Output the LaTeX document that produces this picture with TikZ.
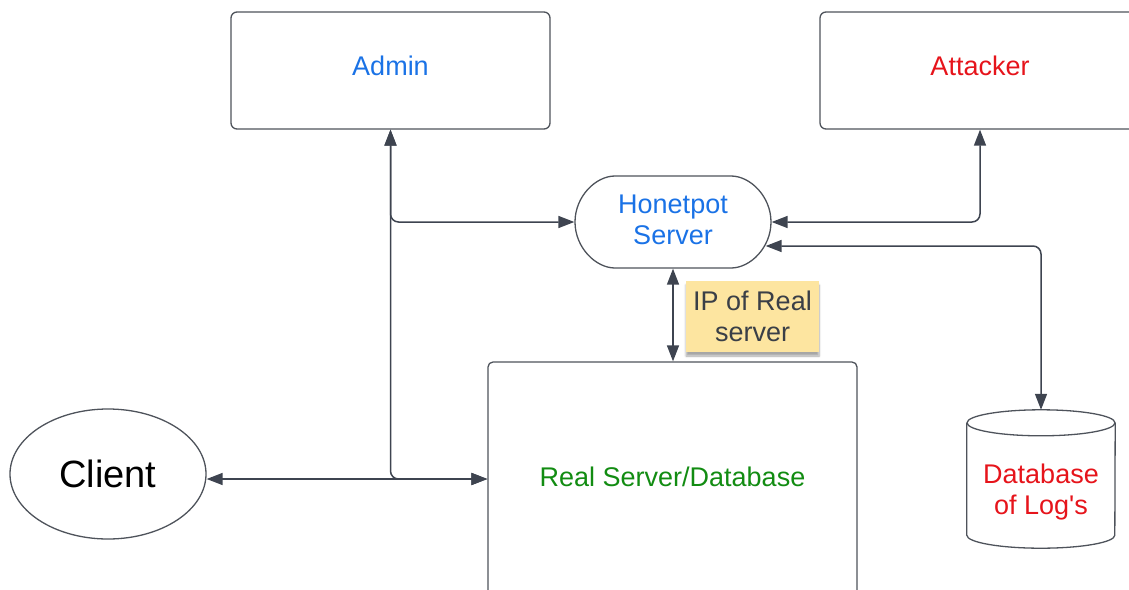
\documentclass[tikz,border=0pt]{standalone}
\usepackage{fontspec}
\setmainfont{Liberation Sans}
\newfontfamily\plainquote{Liberation Sans}[Ligatures=TeXOff]
\usetikzlibrary{arrows.meta,shapes.geometric,shapes.misc,shadows.blur,calc}

\definecolor{wire}{HTML}{3E4450}
\definecolor{edge}{HTML}{4E535B}
\definecolor{txtblue}{HTML}{1A72E6}
\definecolor{txtred}{HTML}{E6141B}
\definecolor{txtgreen}{HTML}{128C12}
\definecolor{notefill}{HTML}{FDE5A0}
\definecolor{notetext}{HTML}{3A3F47}

\newcommand{\lblfont}{\fontsize{27}{31}\selectfont}
\newcommand{\bigfont}{\fontsize{38}{44}\selectfont}

\tikzset{
  box/.style={draw=edge, line width=1.3pt, rounded corners=6pt, inner sep=0pt, font=\lblfont},
  link/.style={draw=wire, line width=1.5pt, rounded corners=8pt,
    {Triangle[length=16pt,width=12pt]}-{Triangle[length=16pt,width=12pt]}},
  stickynote/.style={fill=notefill, inner sep=0pt, font=\lblfont, text=notetext, align=center,
    blur shadow={shadow xshift=0pt, shadow yshift=-4pt, shadow blur steps=6, shadow opacity=35}}
}

\begin{document}
\begin{tikzpicture}[x=1pt, y=-1pt]
\useasboundingbox (0,0) rectangle (1129,589);

% main components
\node[box, text depth=9pt, minimum width=319pt, minimum height=117pt, text=txtblue] (admin) at (390.5,70.5) {Admin};
\node[box, text depth=9pt, minimum width=320pt, minimum height=117pt, text=txtred] (attacker) at (980,70.5) {Attacker};
\node[box, shape=rounded rectangle, align=center, text depth=5pt, minimum width=196pt, minimum height=92pt, text=txtblue] (honeypot) at (673,222) {Honetpot\\Server};
\node[box, rounded corners=5pt, text depth=5pt, minimum width=369pt, minimum height=234pt, text=txtgreen] (real) at (672.5,479) {Real Server/Database};
\node[draw=edge, line width=1.3pt, ellipse, inner sep=0pt, minimum width=196pt, minimum height=130pt, font=\bigfont] (client) at (108,474) {Client};
\node[stickynote, minimum width=133pt, minimum height=71pt] (note) at (752.5,316.5) {IP of Real\\server};

% log database drawn as a cylinder inside a placeholder node
\node[inner sep=0pt, minimum width=148pt, minimum height=138pt] (logs) at (1041,479) {};
\draw[draw=edge, line width=1.3pt]
  ($(logs.north west)+(0,13)$) -- ($(logs.south west)+(0,-13)$)
  arc[start angle=180, end angle=360, x radius=74pt, y radius=13pt]
  -- ($(logs.north east)+(0,13)$);
\draw[draw=edge, line width=1.3pt] ($(logs.north)+(0,13)$) ellipse[x radius=74pt, y radius=13pt];
\node[font=\lblfont, text=txtred, align=center] (logstext) at (1041,492.5) {Database\\of Log{\plainquote '}s};

% connectors
\draw[link] (admin.south) |- (honeypot.west);
\draw[link] (admin.south) |- (real.west);
\draw[link] (real.west) -- (real.west -| client.east);
\draw[link] (honeypot.east) -| (attacker.south);
\draw[link] ($(honeypot.east)+(-6,24)$) -| (logs.north);
\draw[link] (honeypot.south) -- (honeypot.south |- real.north);
\end{tikzpicture}
\end{document}
